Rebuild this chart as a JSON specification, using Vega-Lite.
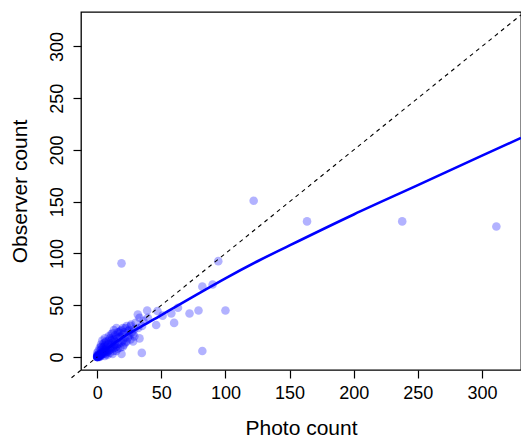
{
  "$schema": "https://vega.github.io/schema/vega-lite/v6.json",
  "autosize": "none",
  "width": 440,
  "height": 358,
  "padding": {"left": 81, "top": 12, "right": 0, "bottom": 68},
  "background": "white",
  "config": {
    "view": {"stroke": "black", "strokeWidth": 1.3},
    "font": "Liberation Sans",
    "axis": {
      "domain": false, "grid": false, "ticks": true, "tickColor": "black", "tickWidth": 1.2, "tickSize": 8,
      "labelFont": "Liberation Sans", "labelFontSize": 18, "labelColor": "black",
      "titleFont": "Liberation Sans", "titleFontSize": 21, "titleFontWeight": "normal", "titleColor": "black"
    }
  },
  "datasets": {
    "pts": [
      {"photo":0,"obs":0},{"photo":0,"obs":0},{"photo":0,"obs":0},{"photo":0,"obs":0},{"photo":1,"obs":0},{"photo":0,"obs":1},{"photo":1,"obs":1},{"photo":1,"obs":1},{"photo":2,"obs":1},{"photo":1,"obs":2},{"photo":2,"obs":2},{"photo":2,"obs":2},{"photo":0,"obs":2},{"photo":2,"obs":0},{"photo":3,"obs":2},{"photo":2,"obs":3},{"photo":3,"obs":3},{"photo":3,"obs":1},{"photo":1,"obs":3},{"photo":4,"obs":3},{"photo":3,"obs":4},{"photo":4,"obs":4},{"photo":5,"obs":3},{"photo":4,"obs":5},{"photo":5,"obs":5},{"photo":0,"obs":4},{"photo":6,"obs":4},{"photo":5,"obs":7},{"photo":6,"obs":6},{"photo":7,"obs":5},{"photo":1,"obs":6},{"photo":3,"obs":7},{"photo":7,"obs":8},{"photo":8,"obs":7},
      {"photo":0,"obs":0},{"photo":0,"obs":0},{"photo":1,"obs":1},{"photo":2,"obs":2},{"photo":1,"obs":0},{"photo":0,"obs":1},{"photo":3,"obs":3},{"photo":2,"obs":1},
      {"photo":2,"obs":9},{"photo":3,"obs":12},{"photo":4,"obs":16},{"photo":5,"obs":10},{"photo":6,"obs":14},{"photo":7,"obs":10},{"photo":8,"obs":12},{"photo":8,"obs":5},{"photo":9,"obs":16},{"photo":10,"obs":10},{"photo":10,"obs":4},{"photo":11,"obs":13},{"photo":12,"obs":18},{"photo":12,"obs":8},{"photo":13,"obs":11},{"photo":14,"obs":21},{"photo":14,"obs":15},{"photo":15,"obs":6},{"photo":15,"obs":10},{"photo":16,"obs":18},{"photo":16,"obs":24},{"photo":17,"obs":13},{"photo":18,"obs":20},{"photo":18,"obs":9},{"photo":19,"obs":26},{"photo":19,"obs":3},{"photo":20,"obs":16},{"photo":20,"obs":22},{"photo":21,"obs":12},{"photo":22,"obs":28},{"photo":22,"obs":19},{"photo":23,"obs":15},{"photo":24,"obs":25},{"photo":25,"obs":21},{"photo":26,"obs":17},{"photo":26,"obs":30},{"photo":27,"obs":24},{"photo":28,"obs":15},{"photo":29,"obs":27},{"photo":30,"obs":33},{"photo":29,"obs":20},{"photo":33,"obs":18},{"photo":32,"obs":28},{"photo":35,"obs":30},{"photo":36,"obs":35},{"photo":9,"obs":20},{"photo":11,"obs":22},{"photo":13,"obs":26},{"photo":15,"obs":28},{"photo":17,"obs":24},{"photo":6,"obs":18},{"photo":10,"obs":7},{"photo":12,"obs":14},{"photo":14,"obs":9},{"photo":16,"obs":13},{"photo":20,"obs":28},{"photo":23,"obs":30},{"photo":25,"obs":26},{"photo":28,"obs":22},{"photo":12,"obs":3},{"photo":8,"obs":2},{"photo":6,"obs":1},
      {"photo":4,"obs":9},{"photo":6,"obs":11},{"photo":7,"obs":15},{"photo":9,"obs":12},{"photo":10,"obs":18},{"photo":11,"obs":9},{"photo":12,"obs":23},{"photo":13,"obs":17},{"photo":14,"obs":12},{"photo":15,"obs":20},{"photo":16,"obs":8},{"photo":17,"obs":19},{"photo":18,"obs":25},{"photo":19,"obs":14},{"photo":20,"obs":10},{"photo":21,"obs":24},{"photo":22,"obs":14},{"photo":24,"obs":19},{"photo":9,"obs":6},{"photo":7,"obs":3},{"photo":11,"obs":16},{"photo":5,"obs":13},{"photo":3,"obs":10},{"photo":13,"obs":6},
      {"photo":31.7,"obs":41},{"photo":39,"obs":45},{"photo":47,"obs":44.4},{"photo":39.5,"obs":38},{"photo":46,"obs":31},{"photo":51,"obs":40},{"photo":57.8,"obs":42.2},{"photo":60,"obs":33},{"photo":63,"obs":47.6},{"photo":72,"obs":42},{"photo":79,"obs":45},{"photo":82,"obs":68},{"photo":90,"obs":70},{"photo":94.4,"obs":92.6},{"photo":100,"obs":45},{"photo":82,"obs":5.8},{"photo":34.8,"obs":4},{"photo":19,"obs":90.5},{"photo":122,"obs":151},{"photo":163.6,"obs":131},{"photo":237.8,"obs":131},{"photo":311.2,"obs":126},{"photo":26.5,"obs":31.5},{"photo":33,"obs":38}
    ],
    "fit": [
      {"photo":0,"obs":0.5},{"photo":5,"obs":5.6},{"photo":10,"obs":10.3},{"photo":20,"obs":19},{"photo":33,"obs":28.5},{"photo":50,"obs":40.5},{"photo":60,"obs":47.8},{"photo":80,"obs":62},{"photo":100,"obs":76},{"photo":125,"obs":92.5},{"photo":150,"obs":107.8},{"photo":200,"obs":137.7},{"photo":250,"obs":166},{"photo":300,"obs":194.5},{"photo":330.4,"obs":211.6}
    ],
    "diag": [{"photo":-20,"obs":-20},{"photo":330.4,"obs":330.4}]
  },
  "layer": [
    {
      "data": {"name": "pts"},
      "mark": {"type": "circle", "size": 74, "color": "#0000FF", "opacity": 0.3, "clip": true},
      "encoding": {
        "x": {"field": "photo", "type": "quantitative", "title": "Photo count",
              "scale": {"domain": [-12.6, 330.4], "nice": false, "zero": false},
              "axis": {"values": [0,50,100,150,200,250,300], "labelPadding": 6, "titlePadding": 15}},
        "y": {"field": "obs", "type": "quantitative", "title": "Observer count",
              "scale": {"domain": [-12.5, 333.2], "nice": false, "zero": false},
              "axis": {"values": [0,50,100,150,200,250,300], "labelAngle": -90, "labelAlign": "center", "labelBaseline": "bottom", "labelPadding": 7, "titlePadding": 18}}
      }
    },
    {
      "data": {"name": "diag"},
      "mark": {"type": "line", "color": "black", "strokeWidth": 1.1, "strokeDash": [4, 4]},
      "encoding": {"x": {"field": "photo", "type": "quantitative"}, "y": {"field": "obs", "type": "quantitative"}}
    },
    {
      "data": {"name": "fit"},
      "mark": {"type": "line", "color": "#0000FF", "strokeWidth": 2.6, "interpolate": "monotone"},
      "encoding": {"x": {"field": "photo", "type": "quantitative"}, "y": {"field": "obs", "type": "quantitative"}}
    }
  ]
}
